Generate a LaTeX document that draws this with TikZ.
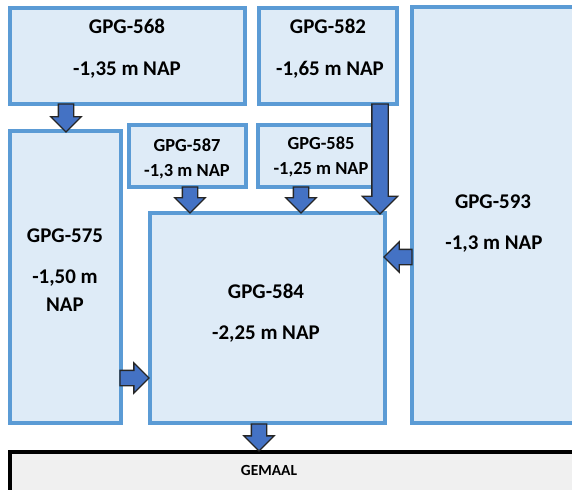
\documentclass[tikz,border=0pt]{standalone}
\usepackage{fontspec}
\setmainfont{Carlito}
\usetikzlibrary{shapes.arrows}
\definecolor{boxfill}{HTML}{DEEBF7}
\definecolor{boxline}{HTML}{5B9BD5}
\definecolor{arrfill}{HTML}{4472C4}
\definecolor{gemfill}{HTML}{F0F0F0}
\begin{document}
\begin{tikzpicture}[x=1bp,y=-1bp,
  box/.style={draw=boxline, fill=boxfill, line width=4bp, rectangle, inner sep=0pt, outer sep=0pt, anchor=north west},
  gembox/.style={draw=black, fill=gemfill, line width=4bp, rectangle, inner sep=0pt, outer sep=0pt, anchor=north west},
  barrow/.style={single arrow, draw=black!85, fill=arrfill, line width=1.3bp, inner xsep=0pt, inner ysep=7bp, outer sep=0pt,
    single arrow head extend=7.5bp, single arrow tip angle=90, minimum width=29bp, anchor=tip},
  bigarrow/.style={barrow, inner ysep=7.5bp, single arrow head extend=9.5bp, minimum width=34bp},
  big/.style={font=\fontsize{21}{25}\selectfont\bfseries, inner sep=0pt, anchor=base},
  small/.style={font=\fontsize{18.5}{22}\selectfont\bfseries, inner sep=0pt, anchor=base},
  tiny/.style={font=\fontsize{15.5}{18}\selectfont\bfseries, inner sep=0pt, anchor=base},
]
\useasboundingbox (0,0) rectangle (572,490);
\clip (0,0) rectangle (572,490);

% boxes
\node[box, minimum width=235bp, minimum height=96bp] (b568) at (10,8) {};
\node[box, minimum width=138bp, minimum height=96bp] (b582) at (259,8) {};
\node[box, minimum width=190bp, minimum height=416bp] (b593) at (412,7) {};
\node[box, minimum width=117bp, minimum height=62bp] (b587) at (129,125) {};
\node[box, minimum width=125bp, minimum height=62bp] (b585) at (258,125) {};
\node[box, minimum width=111bp, minimum height=292bp] (b575) at (10,131) {};
\node[box, minimum width=235bp, minimum height=210bp] (b584) at (150,213) {};
\node[gembox, minimum width=600bp, minimum height=80bp] (gem) at (10,452) {};

% block arrows
\node[barrow, minimum height=28bp, rotate=-90] (a1) at (66,132) {};
\node[barrow, minimum height=26bp, rotate=-90] (a2) at (190,213) {};
\node[barrow, minimum height=26bp, rotate=-90] (a3) at (301,213) {};
\node[bigarrow, minimum height=110bp, rotate=-90] (a4) at (380,214) {};
\node[barrow, minimum height=28bp, rotate=180] (a5) at (384,257) {};
\node[barrow, minimum height=29bp] (a6) at (149,378) {};
\node[barrow, minimum height=27bp, rotate=-90] (a7) at (259,451) {};

% texts
\node[big] (t568a) at (127,33.3) {GPG-568};
\node[big] (t568b) at (127,76) {-1,35 m NAP};
\node[big] (t582a) at (328,34) {GPG-582};
\node[big] (t582b) at (330,75.5) {-1,65 m NAP};
\node[big] (t593a) at (493,209) {GPG-593};
\node[big] (t593b) at (494,249.3) {-1,3 m NAP};
\node[small] (t587a) at (187,151.7) {GPG-587};
\node[small] (t587b) at (187,176.7) {-1,3 m NAP};
\node[small] (t585a) at (321,150) {GPG-585};
\node[small] (t585b) at (321,175) {-1,25 m NAP};
\node[big] (t575a) at (65,242.3) {GPG-575};
\node[big] (t575b) at (65,283.3) {-1,50 m};
\node[big] (t575c) at (65,311.7) {NAP};
\node[big] (t584a) at (266,298.3) {GPG-584};
\node[big] (t584b) at (266,339.3) {-2,25 m NAP};
\node[tiny] (tgem) at (269,475) {GEMAAL};
\end{tikzpicture}
\end{document}
